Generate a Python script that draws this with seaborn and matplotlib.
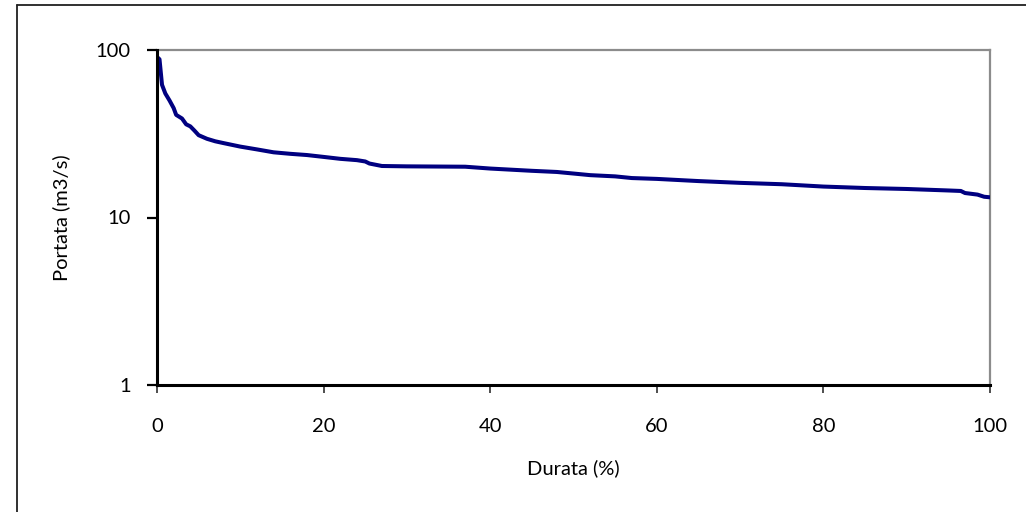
import matplotlib
matplotlib.use("Agg")
import matplotlib.pyplot as plt
from matplotlib.lines import Line2D
from matplotlib.ticker import FixedLocator, FixedFormatter, NullLocator
import seaborn as sns
import pandas as pd

# Flow duration curve: exceedance duration (%) vs discharge (m3/s)
durata = [0, 0.3, 0.6, 1.0, 1.5, 2.0, 2.3, 3.0, 3.5, 4.0, 4.5, 5.0, 6.0, 7.0,
          8.0, 10, 12, 14, 16, 18, 20, 22, 24, 25, 25.5, 27, 30, 37, 40, 45,
          48, 50, 52, 55, 57, 60, 65, 70, 75, 80, 85, 90, 95, 96.5, 97, 98.5,
          99.3, 100]
portata = [91, 88, 62, 55, 50, 45, 41, 39, 36, 35, 33, 31, 29.5, 28.5,
           27.8, 26.5, 25.5, 24.5, 24.0, 23.6, 23.0, 22.4, 22.0, 21.6, 21.0,
           20.3, 20.2, 20.1, 19.6, 19.0, 18.7, 18.3, 17.9, 17.6, 17.2, 17.0,
           16.5, 16.1, 15.8, 15.3, 15.0, 14.8, 14.5, 14.4, 14.0, 13.7, 13.3,
           13.2]

x_ticks = [0, 20, 40, 60, 80, 100]
y_ticks = [1, 10, 100]
y_tick_labels = ["1", "10", "100"]

sns.set_theme(style="white")
plt.rcParams["font.family"] = ["Lato", "DejaVu Sans"]

df = pd.DataFrame({"Durata": durata, "Portata": portata})

fig = plt.figure(figsize=(10.26, 5.12), dpi=100)
ax = fig.add_axes([157 / 1026, 1 - 385 / 512, (990 - 157) / 1026, (385 - 50) / 512])

sns.lineplot(data=df, x="Durata", y="Portata", ax=ax, color="#000080",
             linewidth=2.9, sort=False)

ax.set_yscale("log")
ax.set_xlim(0, 100)
ax.set_ylim(1, 100)
ax.xaxis.set_major_locator(FixedLocator(x_ticks))
ax.set_xticklabels([str(t) for t in x_ticks])
ax.yaxis.set_major_locator(FixedLocator(y_ticks))
ax.yaxis.set_major_formatter(FixedFormatter(y_tick_labels))
ax.yaxis.set_minor_locator(NullLocator())
ax.xaxis.set_minor_locator(NullLocator())

for side in ("left", "bottom"):
    ax.spines[side].set_color("black")
    ax.spines[side].set_linewidth(2.2)
for side in ("top", "right"):
    ax.spines[side].set_color("#8c8c8c")
    ax.spines[side].set_linewidth(1.6)
    ax.spines[side].set_zorder(0)

ax.tick_params(axis="y", which="major", direction="out", length=7, width=1.6,
               color="black", labelsize=14.5, pad=12, left=True, labelcolor="black")
ax.tick_params(axis="x", which="major", direction="out", length=6, width=1.3,
               color="#404040", labelsize=14.5, pad=18, bottom=True, labelcolor="black")

ax.set_xlabel("Durata (%)", fontsize=14.5, labelpad=17, color="black")
ax.set_ylabel("Portata (m3/s)", fontsize=14.5, labelpad=18, color="black")

# chart area frame
fig.add_artist(Line2D([17 / 1026, 17 / 1026], [0, 1 - 5 / 512],
                      transform=fig.transFigure, color="#202020", linewidth=1.3))
fig.add_artist(Line2D([17 / 1026, 1.0], [1 - 5 / 512, 1 - 5 / 512],
                      transform=fig.transFigure, color="#202020", linewidth=1.3))

fig.savefig("out.png", dpi=100)
